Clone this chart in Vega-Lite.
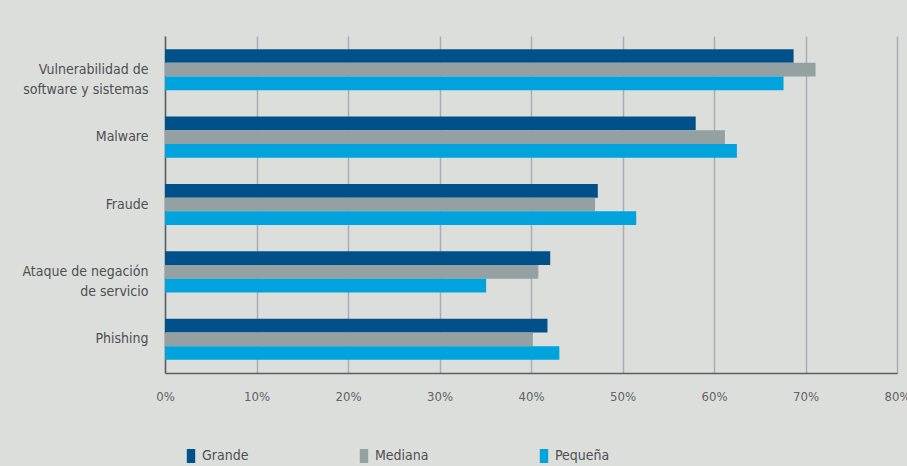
{
  "$schema": "https://vega.github.io/schema/vega-lite/v6.json",
  "autosize": {"type": "none"},
  "padding": {"left": 165, "top": 36, "right": 10, "bottom": 93},
  "width": 732,
  "height": 337,
  "background": "#dcdedb",
  "config": {
    "view": {"stroke": null},
    "font": "DejaVu Sans Condensed, Open Sans, sans-serif"
  },
  "data": {
    "values": [
      {"amenaza": "Vulnerabilidad de software y sistemas", "empresa": "Grande", "pct": 68.7},
      {"amenaza": "Vulnerabilidad de software y sistemas", "empresa": "Mediana", "pct": 71.1},
      {"amenaza": "Vulnerabilidad de software y sistemas", "empresa": "Pequeña", "pct": 67.6},
      {"amenaza": "Malware", "empresa": "Grande", "pct": 58.0},
      {"amenaza": "Malware", "empresa": "Mediana", "pct": 61.2},
      {"amenaza": "Malware", "empresa": "Pequeña", "pct": 62.5},
      {"amenaza": "Fraude", "empresa": "Grande", "pct": 47.3},
      {"amenaza": "Fraude", "empresa": "Mediana", "pct": 47.0},
      {"amenaza": "Fraude", "empresa": "Pequeña", "pct": 51.5},
      {"amenaza": "Ataque de negación de servicio", "empresa": "Grande", "pct": 42.1},
      {"amenaza": "Ataque de negación de servicio", "empresa": "Mediana", "pct": 40.8},
      {"amenaza": "Ataque de negación de servicio", "empresa": "Pequeña", "pct": 35.1},
      {"amenaza": "Phishing", "empresa": "Grande", "pct": 41.8},
      {"amenaza": "Phishing", "empresa": "Mediana", "pct": 40.2},
      {"amenaza": "Phishing", "empresa": "Pequeña", "pct": 43.1}
    ]
  },
  "mark": {"type": "bar"},
  "encoding": {
    "y": {
      "field": "amenaza",
      "type": "nominal",
      "sort": ["Vulnerabilidad de software y sistemas", "Malware", "Fraude", "Ataque de negación de servicio", "Phishing"],
      "scale": {"paddingInner": 0.39, "paddingOuter": 0.195},
      "axis": {
        "title": null,
        "ticks": false,
        "domain": true,
        "domainColor": "#5a5f63",
        "domainWidth": 1.5,
        "labelPadding": 17,
        "labelFontSize": 14,
        "labelColor": "#4d4f52",
        "labelLineHeight": 20,
        "labelLimit": 200,
        "labelExpr": "datum.value == 'Vulnerabilidad de software y sistemas' ? ['Vulnerabilidad de', 'software y sistemas'] : datum.value == 'Ataque de negación de servicio' ? ['Ataque de negación', 'de servicio'] : datum.value"
      }
    },
    "yOffset": {
      "field": "empresa",
      "type": "nominal",
      "sort": ["Grande", "Mediana", "Pequeña"],
      "scale": {"paddingInner": 0, "paddingOuter": 0}
    },
    "x": {
      "field": "pct",
      "type": "quantitative",
      "scale": {"domain": [0, 80], "nice": false},
      "axis": {
        "title": null,
        "values": [0, 10, 20, 30, 40, 50, 60, 70, 80],
        "labelExpr": "datum.value + '%'",
        "grid": true,
        "gridColor": "#a7aeb3",
        "gridWidth": 1.5,
        "ticks": false,
        "domain": true,
        "domainColor": "#5a5f63",
        "domainWidth": 1.5,
        "labelPadding": 17,
        "labelFontSize": 13,
        "labelColor": "#606366",
        "labelFlush": false
      }
    },
    "color": {
      "field": "empresa",
      "type": "nominal",
      "sort": ["Grande", "Mediana", "Pequeña"],
      "scale": {"domain": ["Grande", "Mediana", "Pequeña"], "range": ["#00508a", "#95a0a2", "#00a3dc"]},
      "legend": {
        "title": null,
        "orient": "none",
        "direction": "horizontal",
        "legendX": 19,
        "legendY": 413,
        "symbolType": "M-0.6,-1H0.6V1H-0.6Z",
        "symbolSize": 196,
        "symbolStrokeWidth": 0,
        "labelFontSize": 14,
        "labelColor": "#4d4f52",
        "labelOffset": 4,
        "columnPadding": 108,
        "padding": 0
      }
    }
  }
}
